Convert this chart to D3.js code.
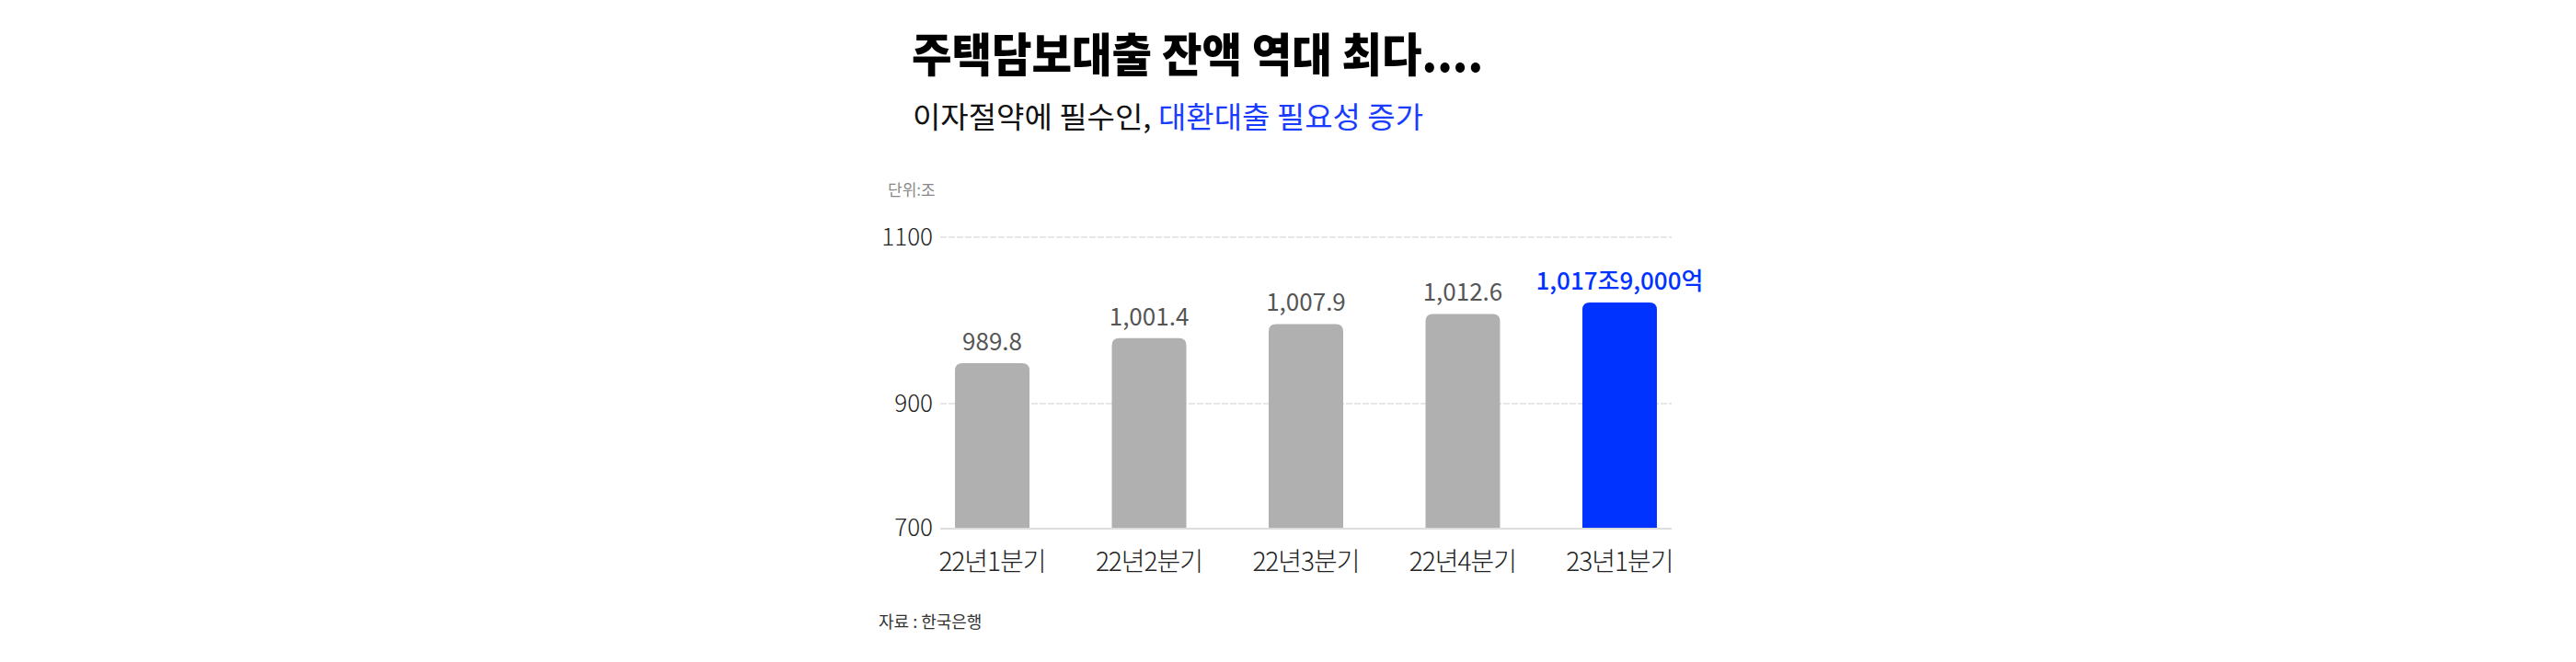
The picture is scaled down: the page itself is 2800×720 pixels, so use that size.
<script src="https://d3js.org/d3.v7.min.js"></script>
<html>
<head>
<style>
  body { margin: 0; background: #fff; }
  svg text { font-family: "Noto Sans CJK KR", "Noto Sans", sans-serif; }
</style>
</head>
<body>
<div id="chart"></div>
<script>
// data
var quarters = ["22년1분기", "22년2분기", "22년3분기", "22년4분기", "23년1분기"];
var balances = [989.8, 1001.4, 1007.9, 1012.6, 1017.9];
var valueLabels = ["989.8", "1,001.4", "1,007.9", "1,012.6", "1,017조9,000억"];
var yTicks = [700, 900, 1100];
// the source axis is stretched around the bar tops, so the scale is piecewise
var yBreaks = [700, 900, 980, 1020, 1100];

var width = 2800, height = 720;
var grey = "#b0b0b0", blue = "#0033ff";

var svg = d3.select("#chart").append("svg")
  .attr("width", width)
  .attr("height", height);

var x = d3.scaleBand()
  .domain(quarters)
  .range([1022, 1817])
  .paddingInner(0.525)
  .paddingOuter(0.094);

var y = d3.scaleLinear()
  .domain(yBreaks)
  .range([574, 439, 418, 324, 258]);

// title + subtitle
svg.append("text")
  .attr("x", 991).attr("y", 78)
  .attr("font-size", 50)
  .attr("font-weight", 900)
  .attr("fill", "#000")
  .attr("textLength", 621)
  .attr("lengthAdjust", "spacingAndGlyphs")
  .text("주택담보대출 잔액 역대 최다....");

var sub = svg.append("text")
  .attr("x", 992).attr("y", 139)
  .attr("font-size", 32)
  .attr("font-weight", 400)
  .attr("textLength", 555)
  .attr("lengthAdjust", "spacingAndGlyphs");
sub.append("tspan").attr("fill", "#111").text("이자절약에 필수인, ");
sub.append("tspan").attr("fill", "#1a3cff").text("대환대출 필요성 증가");

// unit
svg.append("text")
  .attr("x", 965).attr("y", 213)
  .attr("font-size", 17)
  .attr("fill", "#888")
  .text("단위:조");

// y axis: labels + gridlines
var yAxis = d3.axisLeft(y)
  .tickValues(yTicks)
  .tickSize(0)
  .tickPadding(0)
  .tickFormat(d3.format("d"));

var yG = svg.append("g")
  .attr("transform", "translate(1014,0)")
  .call(yAxis);
yG.select(".domain").remove();
yG.selectAll("text")
  .attr("font-size", 26)
  .attr("font-family", "Lato, 'Noto Sans', sans-serif")
  .attr("font-weight", 300)
  .attr("fill", "#222");

svg.selectAll("line.grid")
  .data(yTicks.filter(function(d){ return d != 700; }))
  .enter().append("line")
  .attr("class", "grid")
  .attr("x1", 1022).attr("x2", 1817)
  .attr("y1", function(d){ return y(d); })
  .attr("y2", function(d){ return y(d); })
  .attr("stroke", "#e0e0e0")
  .attr("stroke-width", 1.5)
  .attr("stroke-dasharray", "7,2");

// baseline
svg.append("line")
  .attr("x1", 1022).attr("x2", 1817)
  .attr("y1", y(700) + 1).attr("y2", y(700) + 1)
  .attr("stroke", "#dddddd")
  .attr("stroke-width", 2);

// bars with rounded tops
function barPath(d, i) {
  var x0 = x(quarters[i]), w = x.bandwidth(), r = 8;
  var top = y(d), bot = y(700);
  return "M" + x0 + "," + bot +
    "V" + (top + r) +
    "Q" + x0 + "," + top + " " + (x0 + r) + "," + top +
    "H" + (x0 + w - r) +
    "Q" + (x0 + w) + "," + top + " " + (x0 + w) + "," + (top + r) +
    "V" + bot + "Z";
}

svg.selectAll("path.bar")
  .data(balances)
  .enter().append("path")
  .attr("class", "bar")
  .attr("d", barPath)
  .attr("fill", function(d, i){ return i == balances.length - 1 ? blue : grey; });

// value labels
svg.selectAll("text.val")
  .data(balances)
  .enter().append("text")
  .attr("class", "val")
  .attr("x", function(d, i){ return x(quarters[i]) + x.bandwidth() / 2; })
  .attr("y", function(d){ return y(d) - 14; })
  .attr("text-anchor", "middle")
  .attr("font-size", 26)
  .attr("font-family", "Lato, 'Noto Sans CJK KR', sans-serif")
  .attr("font-weight", function(d, i){ return i == balances.length - 1 ? 500 : 400; })
  .attr("fill", function(d, i){ return i == balances.length - 1 ? blue : "#555"; })
  .text(function(d, i){ return valueLabels[i]; });

// category labels
svg.selectAll("text.cat")
  .data(quarters)
  .enter().append("text")
  .attr("class", "cat")
  .attr("x", function(d){ return x(d) + x.bandwidth() / 2; })
  .attr("y", 621)
  .attr("text-anchor", "middle")
  .attr("font-size", 28)
  .attr("font-weight", 300)
  .attr("letter-spacing", -1)
  .attr("fill", "#222")
  .text(function(d){ return d; });

// source
svg.append("text")
  .attr("x", 955).attr("y", 683)
  .attr("font-size", 18)
  .attr("fill", "#333")
  .text("자료 : 한국은행");
</script>
</body>
</html>
